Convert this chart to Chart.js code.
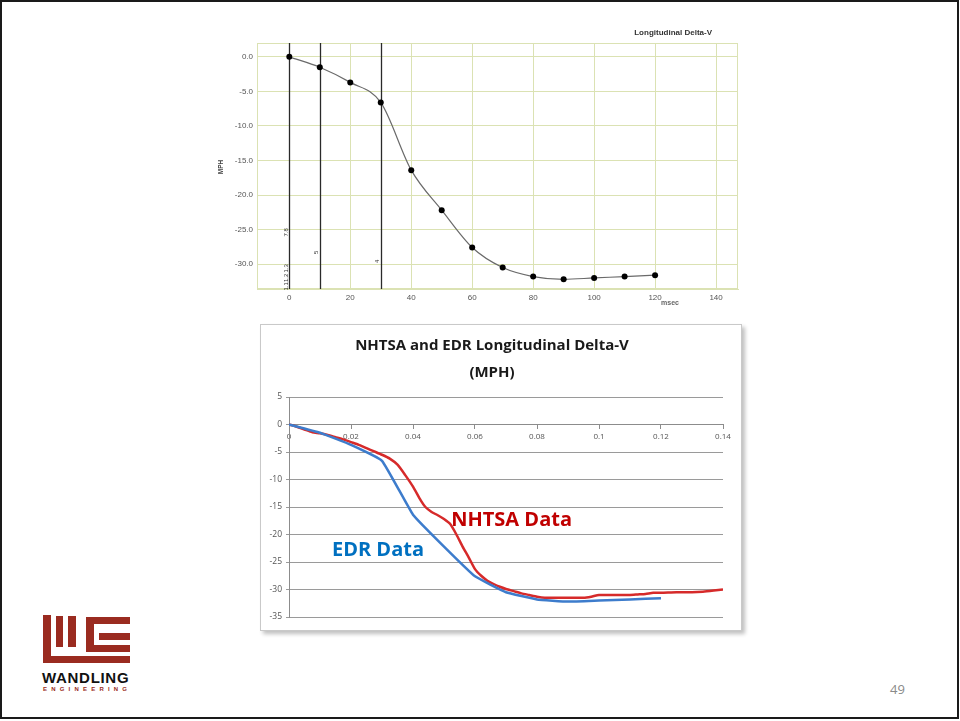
<!DOCTYPE html>
<html>
<head>
<meta charset="utf-8">
<script src="https://cdn.jsdelivr.net/npm/chart.js@4"></script>
<style>
  body { margin: 0; background: #fff; }
  #slide { position: relative; width: 960px; height: 721px; background: #fff; overflow: hidden; }
  #marco { position: absolute; left: 0; top: 0; width: 955px; height: 715px; border: 2px solid #1a1a1a; }
  canvas { display: block; }
  #graficoArriba { position: absolute; left: 200px; top: 20px; }
  #caja { position: absolute; left: 260px; top: 324px; width: 480px; height: 305px;
          border: 1px solid #c9c9c9; box-shadow: 3px 3px 4px #c0c0c0; background: #fff; }
  .logo { position: absolute; background: #9a2b20; }
  #wandling { position: absolute; left: 42px; top: 669px; font: bold 15px 'Liberation Sans', Arial, sans-serif;
              letter-spacing: 0.7px; color: #111; }
  #engineering { position: absolute; left: 43px; top: 686px; font: bold 6px 'Liberation Sans', Arial, sans-serif;
                 letter-spacing: 4.2px; color: #9a2b20; }
  #pagina { position: absolute; left: 890px; top: 680px; font: 13px 'Open Sans', sans-serif; color: #8a8a8a; }
</style>
</head>
<body>
<div id="slide">
  <div id="marco"></div>
  <canvas id="graficoArriba" width="550" height="300"></canvas>
  <div id="caja"><canvas id="graficoAbajo" width="480" height="305"></canvas></div>

  <!-- logo -->
  <div class="logo" style="left:43px;top:615px;width:8px;height:48px"></div>
  <div class="logo" style="left:56px;top:616px;width:7px;height:31px"></div>
  <div class="logo" style="left:68px;top:616px;width:8px;height:31px"></div>
  <div class="logo" style="left:86px;top:617px;width:8px;height:35px"></div>
  <div class="logo" style="left:86px;top:617px;width:44px;height:7px"></div>
  <div class="logo" style="left:99px;top:633px;width:31px;height:7px"></div>
  <div class="logo" style="left:86px;top:645px;width:44px;height:7px"></div>
  <div class="logo" style="left:43px;top:656px;width:87px;height:7px"></div>
  <div id="wandling">WANDLING</div>
  <div id="engineering">ENGINEERING</div>
  <div id="pagina">49</div>
</div>

<script>
// Datos del EDR (msec / MPH)
const edrMs = [0, 10, 20, 30, 40, 50, 60, 70, 80, 90, 100, 110, 120];
const edrMph = [0, -1.5, -3.7, -6.6, -16.4, -22.2, -27.6, -30.5, -31.8, -32.2, -32.0, -31.8, -31.6];

// Datos NHTSA (segundos / MPH)
const nhtsaSeg = [0, 0.0025, 0.005, 0.0075, 0.01, 0.0125, 0.015, 0.0175, 0.02, 0.0225,
  0.025, 0.0275, 0.03, 0.0325, 0.035, 0.0375, 0.04, 0.0425, 0.044, 0.046,
  0.048, 0.05, 0.052, 0.054, 0.056, 0.058, 0.06, 0.062, 0.064, 0.066,
  0.068, 0.07, 0.0725, 0.075, 0.0775, 0.08, 0.0825, 0.085, 0.09, 0.095,
  0.0975, 0.1, 0.105, 0.11, 0.1125, 0.115, 0.1175, 0.12, 0.125, 0.13,
  0.1335, 0.137, 0.14];
const nhtsaMph = [0, -0.4, -0.9, -1.4, -1.6, -1.9, -2.3, -2.7, -3.2, -3.7,
  -4.3, -4.9, -5.5, -6.2, -7.3, -9.2, -11.3, -13.8, -15.0, -15.9,
  -16.5, -17.2, -18.1, -20.0, -22.2, -24.2, -26.3, -27.5, -28.4, -29.0,
  -29.5, -29.9, -30.3, -30.7, -31.0, -31.3, -31.5, -31.5, -31.5, -31.5,
  -31.3, -31.0, -31.0, -31.0, -30.9, -30.8, -30.6, -30.6, -30.5, -30.5,
  -30.4, -30.2, -30.0];

// Ticks
const ticksXArriba = [0, 20, 40, 60, 80, 100, 120, 140];
const ticksYArriba = [-30, -25, -20, -15, -10, -5, 0];
const ticksXAbajo = [0, 0.02, 0.04, 0.06, 0.08, 0.1, 0.12, 0.14];
const ticksYAbajo = [-35, -30, -25, -20, -15, -10, -5, 0, 5];

// Eventos marcados en el grafico del EDR
const eventosMs = [0, 10, 30];
const etiquetasEventos = [
  { ms: 0, mph: -25.4, texto: '7.8' },
  { ms: 0, mph: -30.6, texto: '1.3' },
  { ms: 0, mph: -32.0, texto: '1.2' },
  { ms: 0, mph: -33.2, texto: '1.1' },
  { ms: 10, mph: -28.3, texto: '5' },
  { ms: 30, mph: -29.6, texto: '4' }
];

Chart.defaults.font.family = "'Open Sans', sans-serif";
Chart.defaults.animation = false;

const colorRejilla = '#dbe2b3';

function texto(ctx, t, x, y, font, color, align, rot) {
  ctx.save();
  ctx.font = font;
  ctx.fillStyle = color;
  ctx.textAlign = align || 'center';
  ctx.textBaseline = 'middle';
  ctx.translate(x, y);
  if (rot) ctx.rotate(rot);
  ctx.fillText(t, 0, 0);
  ctx.restore();
}

// Plugin: marco, lineas de eventos y textos del grafico de arriba
const extrasArriba = {
  id: 'extrasArriba',
  beforeDatasetsDraw(chart) {
    const { ctx, chartArea: a, scales: { x, y } } = chart;
    ctx.save();
    ctx.strokeStyle = colorRejilla;
    ctx.lineWidth = 1;
    ctx.strokeRect(a.left + 0.5, a.top + 0.5, a.right - a.left - 1, a.bottom - a.top - 1);
    ctx.strokeStyle = '#2a2a2a';
    ctx.lineWidth = 1.3;
    eventosMs.forEach(ms => {
      const px = Math.round(x.getPixelForValue(ms)) + 0.5;
      ctx.beginPath();
      ctx.moveTo(px, a.top);
      ctx.lineTo(px, a.bottom);
      ctx.stroke();
    });
    ctx.restore();
    etiquetasEventos.forEach(e => {
      texto(ctx, e.texto, x.getPixelForValue(e.ms) - 3, y.getPixelForValue(e.mph),
        '6px "Liberation Sans"', '#333', 'center', -Math.PI / 2);
    });
  },
  afterDraw(chart) {
    const ctx = chart.ctx;
    texto(ctx, 'Longitudinal Delta-V', 512, 13, 'bold 8px "Liberation Sans"', '#333', 'right');
    texto(ctx, 'msec', 470, 283, 'bold 7px "Liberation Sans"', '#666');
    texto(ctx, 'MPH', 21, 147, 'bold 6.5px "Liberation Sans"', '#444', 'center', -Math.PI / 2);
  }
};

new Chart(document.getElementById('graficoArriba'), {
  type: 'line',
  data: {
    datasets: [{
      label: 'EDR',
      data: edrMs.map((t, i) => ({ x: t, y: edrMph[i] })),
      borderColor: '#6a6a6a',
      borderWidth: 1.2,
      cubicInterpolationMode: 'monotone',
      pointRadius: 3,
      pointBackgroundColor: '#000',
      pointBorderColor: '#000',
      pointBorderWidth: 0
    }]
  },
  options: {
    responsive: false,
    layout: { padding: { top: 23, right: 12, left: 0, bottom: 0 } },
    plugins: { legend: { display: false }, tooltip: { enabled: false } },
    scales: {
      x: {
        type: 'linear', min: -10.6, max: 147.2,
        afterBuildTicks: s => { s.ticks = ticksXArriba.map(v => ({ value: v })); },
        afterFit: s => { s.height = 31; },
        ticks: { font: { size: 8, family: 'Liberation Sans' }, color: '#555', padding: 4, maxRotation: 0 },
        grid: { color: colorRejilla, drawTicks: false },
        border: { color: colorRejilla }
      },
      y: {
        type: 'linear', min: -33.6, max: 2.0,
        afterBuildTicks: s => { s.ticks = ticksYArriba.map(v => ({ value: v })); },
        afterFit: s => { s.width = 57; },
        ticks: { callback: v => v.toFixed(1), font: { size: 8, family: 'Liberation Sans' }, color: '#555', padding: 4 },
        grid: { color: colorRejilla, drawTicks: false },
        border: { color: colorRejilla }
      }
    }
  },
  plugins: [extrasArriba]
});

// Plugin: rotulos de las series del grafico de abajo
const rotulosAbajo = {
  id: 'rotulosAbajo',
  afterDatasetsDraw(chart) {
    const { ctx, scales: { x, y } } = chart;
    texto(ctx, 'NHTSA Data', x.getPixelForValue(0.0718), y.getPixelForValue(-17.5), 'bold 20px "Open Sans"', '#c00000');
    texto(ctx, 'EDR Data', x.getPixelForValue(0.0287), y.getPixelForValue(-22.8), 'bold 20px "Open Sans"', '#0070c0');
  }
};

new Chart(document.getElementById('graficoAbajo'), {
  type: 'line',
  data: {
    datasets: [{
      label: 'EDR Data',
      data: edrMs.map((t, i) => ({ x: t / 1000, y: edrMph[i] })),
      borderColor: '#3d7ccc',
      borderWidth: 2.5,
      pointRadius: 0,
      tension: 0.1
    }, {
      label: 'NHTSA Data',
      data: nhtsaSeg.map((t, i) => ({ x: t, y: nhtsaMph[i] })),
      borderColor: '#d62a2a',
      borderWidth: 2.5,
      pointRadius: 0,
      tension: 0.2
    }]
  },
  options: {
    responsive: false,
    layout: { padding: { top: 0, right: 18, left: 0, bottom: 13 } },
    plugins: {
      legend: { display: false },
      tooltip: { enabled: false },
      title: {
        display: true,
        text: ['NHTSA and EDR Longitudinal Delta-V', '(MPH)'],
        color: '#1a1a1a',
        font: { size: 15, weight: 'bold', family: 'Open Sans', lineHeight: 1.75 },
        padding: { top: 8, bottom: 11.5 }
      }
    },
    scales: {
      x: {
        type: 'linear', min: 0, max: 0.14,
        position: { y: 0 },
        afterBuildTicks: s => { s.ticks = ticksXAbajo.map(v => ({ value: v })); },
        ticks: { callback: v => String(+v.toFixed(2)), font: { size: 8 }, color: '#555', padding: 3, maxRotation: 0 },
        grid: { drawOnChartArea: false, tickLength: 4, color: '#8c8c8c' },
        border: { color: '#8c8c8c' }
      },
      y: {
        type: 'linear', min: -35, max: 5,
        afterBuildTicks: s => { s.ticks = ticksYAbajo.map(v => ({ value: v })); },
        afterFit: s => { s.width = 28; },
        ticks: { font: { size: 8.5 }, color: '#555', padding: 4 },
        grid: { color: '#9a9a9a', tickLength: 3 },
        border: { color: '#8c8c8c' }
      }
    }
  },
  plugins: [rotulosAbajo]
});
</script>
</body>
</html>
